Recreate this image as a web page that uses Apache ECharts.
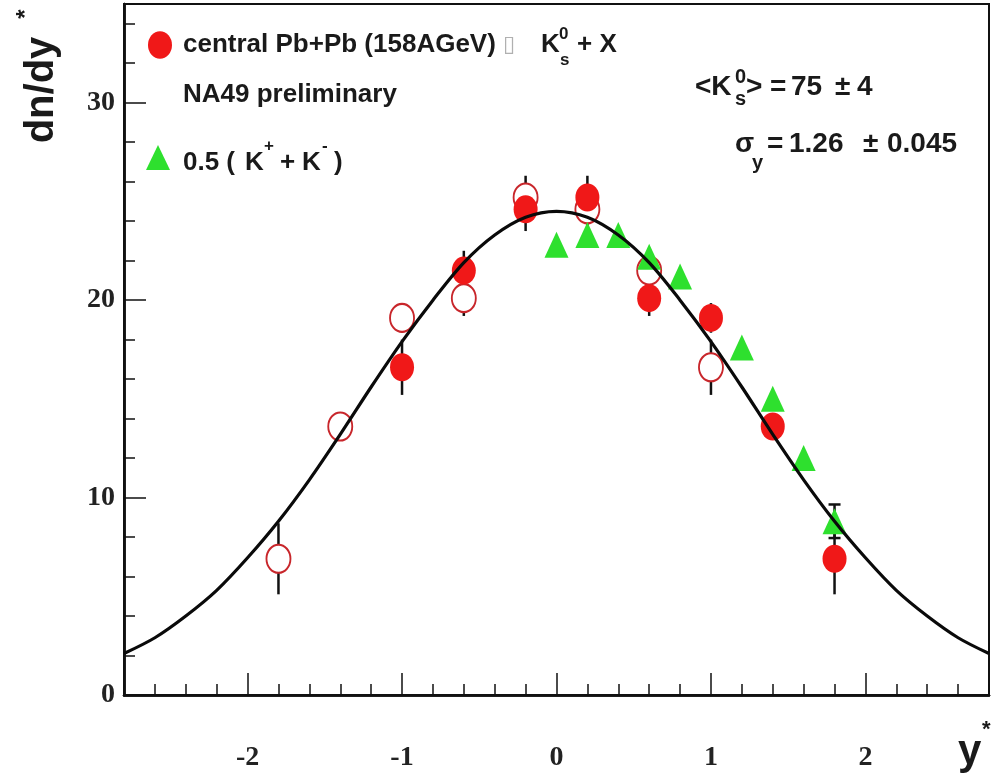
<!DOCTYPE html>
<html>
<head>
<meta charset="utf-8">
<script src="https://cdn.jsdelivr.net/npm/echarts@6/dist/echarts.min.js"></script>
<style>html,body{margin:0;padding:0;background:#fff}#c{width:994px;height:779px}</style>
</head>
<body>
<div id="c"></div>
<script>
// ---- data ----
const filledX = [-1.0, -0.6, -0.2, 0.2, 0.6, 1.0, 1.4, 1.8];
const filledY = [16.6, 21.5, 24.6, 25.2, 20.1, 19.1, 13.6, 6.9];
const filledErr = [1.4, 1.0, 1.1, 1.1, 0.9, 0.75, 0.6, 1.8];

const openX = [-1.8, -1.4, -1.0, -0.6, -0.2, 0.2, 0.6, 1.0];
const openY = [6.9, 13.6, 19.1, 20.1, 25.2, 24.6, 21.5, 16.6];
const openErr = [1.8, 0.6, 0.75, 0.9, 1.1, 1.1, 1.0, 1.4];

const triX = [0.0, 0.2, 0.4, 0.6, 0.8, 1.2, 1.4, 1.6, 1.8];
const triY = [22.8, 23.3, 23.3, 22.2, 21.2, 17.6, 15.0, 12.0, 8.8];
const triErr = [0.3, 0.3, 0.3, 0.3, 0.3, 0.4, 0.4, 0.5, 0.85];

const curveX = [-2.8, -2.6, -2.4, -2.2, -2.0, -1.8, -1.6, -1.4, -1.2, -1.0, -0.8, -0.6, -0.4, -0.2, 0.0,
                0.2, 0.4, 0.6, 0.8, 1.0, 1.2, 1.4, 1.6, 1.8, 2.0, 2.2, 2.4, 2.6, 2.8];
const curveY = [2.1, 2.9, 4.0, 5.3, 6.95, 8.8, 10.9, 13.2, 15.6, 17.9, 20.0, 21.9, 23.3, 24.2, 24.5,
                24.2, 23.3, 21.9, 20.0, 17.9, 15.6, 13.2, 10.9, 8.8, 6.95, 5.3, 4.0, 2.9, 2.1];

const xMin = -2.8, xMax = 2.8, yMin = 0, yMax = 35;
const xMajorLabels = [-2, -1, 0, 1, 2];
const yMajorLabels = [0, 10, 20, 30];

// ---- chart ----
const chart = echarts.init(document.getElementById('c'), null, {renderer: 'canvas'});
const tickFont = {fontFamily: 'Liberation Serif', fontWeight: 'bold', fontSize: 28, color: '#222'};
const sansB = "bold 26px 'Liberation Sans'";
const sansSm = "bold 17px 'Liberation Sans'";
const fitB = "bold 28px 'Liberation Sans'";
const fitSm = "bold 20px 'Liberation Sans'";

function errSeries(xs, ys, es, cap, z) {
  return {
    type: 'custom', xAxisIndex: 0, yAxisIndex: 0, z: z, silent: true,
    data: xs.map((x, i) => [x, ys[i] - es[i], ys[i] + es[i], es[i]]),
    renderItem: function (params, api) {
      const lo = api.coord([api.value(0), api.value(1)]);
      const hi = api.coord([api.value(0), api.value(2)]);
      const st = {stroke: '#111', lineWidth: 2.5};
      const ch = [{type: 'line', shape: {x1: lo[0], y1: lo[1], x2: hi[0], y2: hi[1]}, style: st}];
      if (cap && api.value(3) >= 0.8) {
        ch.push({type: 'line', shape: {x1: lo[0] - 6, y1: lo[1], x2: lo[0] + 6, y2: lo[1]}, style: st});
        ch.push({type: 'line', shape: {x1: hi[0] - 6, y1: hi[1], x2: hi[0] + 6, y2: hi[1]}, style: st});
      }
      return {type: 'group', children: ch};
    }
  };
}

function txt(text, x, y, font, extra) {
  const el = {type: 'text', x: x, y: y, z: 100,
    style: {text: text, font: font, fill: '#1a1a1a', textAlign: 'left', textVerticalAlign: 'middle'}};
  if (extra) {
    if (extra.rotation !== undefined) el.rotation = extra.rotation;
    Object.assign(el.style, extra.style || {});
  }
  return el;
}

const option = {
  animation: false,
  backgroundColor: '#fff',
  grid: {left: 124, right: 5, top: 4, bottom: 84, show: true, borderColor: '#111', borderWidth: 2, containLabel: false},
  xAxis: [
    { type: 'value', min: xMin, max: xMax, interval: 0.2, position: 'bottom',
      axisLine: {show: true, onZero: false, lineStyle: {color: '#111', width: 2.5}},
      axisTick: {show: true, inside: true, length: 11, lineStyle: {color: '#111', width: 1.5}},
      axisLabel: {show: false}, splitLine: {show: false} },
    { type: 'value', min: xMin, max: xMax, splitNumber: 6, position: 'bottom',
      axisLine: {show: true, onZero: false, lineStyle: {color: '#111', width: 2.5}},
      axisTick: {show: true, inside: true, length: 22, lineStyle: {color: '#111', width: 1.5}},
      axisLabel: Object.assign({show: true, margin: 49, showMinLabel: false, showMaxLabel: false,
        formatter: v => (xMajorLabels.indexOf(Math.round(v * 10) / 10) >= 0 ? String(Math.round(v)) : '')}, tickFont),
      splitLine: {show: false} }
  ],
  yAxis: [
    { type: 'value', min: yMin, max: yMax, interval: 10, position: 'left',
      axisLine: {show: true, onZero: false, lineStyle: {color: '#111', width: 2.5}},
      axisTick: {show: true, inside: true, length: 22, lineStyle: {color: '#111', width: 1.5}},
      axisLabel: Object.assign({show: true, margin: 9, showMaxLabel: false,
        formatter: v => (yMajorLabels.indexOf(v) >= 0 ? String(v) : '')}, tickFont),
      splitLine: {show: false} },
    { type: 'value', min: yMin, max: yMax, interval: 2, position: 'left', offset: 0,
      axisLine: {show: true, onZero: false, lineStyle: {color: '#111', width: 2.5}},
      axisTick: {show: true, inside: true, length: 11, lineStyle: {color: '#111', width: 1.5}},
      axisLabel: {show: false}, splitLine: {show: false} }
  ],
  series: [
    errSeries(openX, openY, openErr, false, 2),
    errSeries(filledX, filledY, filledErr, false, 2),
    errSeries(triX, triY, triErr, true, 2),
    { type: 'scatter', name: 'open', z: 3, symbol: 'circle', symbolSize: [24, 28],
      data: openX.map((x, i) => [x, openY[i]]),
      itemStyle: {color: '#ffffff', borderColor: '#c8262b', borderWidth: 2, opacity: 1} },
    { type: 'scatter', name: 'filled', z: 4, symbol: 'circle', symbolSize: [24, 28],
      data: filledX.map((x, i) => [x, filledY[i]]),
      itemStyle: {color: '#f01818', opacity: 1} },
    { type: 'scatter', name: 'kpm', z: 5, symbol: 'triangle', symbolSize: [24, 26],
      data: triX.map((x, i) => [x, triY[i]]),
      itemStyle: {color: '#2ee02e', opacity: 1} },
    { type: 'line', name: 'fit', z: 10, smooth: 0.3, symbol: 'none',
      data: curveX.map((x, i) => [x, curveY[i]]),
      lineStyle: {color: '#0a0a0a', width: 3.2} }
  ],
  graphic: [
    // axis titles
    txt('dn/dy', 42, 90, "bold 40px 'Liberation Sans'", {rotation: Math.PI / 2, style: {textAlign: 'center'}}),
    txt('*', 26, 14, "bold 24px 'Liberation Sans'", {rotation: Math.PI / 2, style: {textAlign: 'center'}}),
    txt('y', 958, 752, "bold 42px 'Liberation Sans'"),
    txt('*', 982, 730, "bold 22px 'Liberation Sans'"),
    // legend markers
    {type: 'circle', z: 100, shape: {cx: 160, cy: 45, r: 12}, scaleY: 1.15, originX: 160, originY: 45, style: {fill: '#f01818'}},
    {type: 'polygon', z: 100, shape: {points: [[146, 170], [170, 170], [158, 145]]}, style: {fill: '#2ee02e'}},
    // legend texts
    txt('central Pb+Pb (158AGeV)', 183, 45, sansB),
    txt('\u25AF', 503, 45, "22px 'DejaVu Sans'", {style: {fill: '#b0b0b0'}}),
    txt('K', 541, 45, sansB),
    txt('0', 559, 34, sansSm),
    txt('s', 560, 60, sansSm),
    txt('+ X', 577, 45, sansB),
    txt('NA49 preliminary', 183, 95, sansB),
    txt('0.5 (', 183, 163, sansB),
    txt('K', 245, 163, sansB),
    txt('+', 264, 146, sansSm),
    txt('+', 280, 163, sansB),
    txt('K', 302, 163, sansB),
    txt('-', 322, 146, sansSm),
    txt(')', 334, 163, sansB),
    // fit results
    txt('<K', 695, 87, fitB),
    txt('0', 735, 77, fitSm),
    txt('s', 735, 99, fitSm),
    txt('>', 746, 87, fitB),
    txt('=', 770, 87, fitB),
    txt('75', 791, 87, fitB),
    txt('\u00B1', 835, 87, fitB),
    txt('4', 857, 87, fitB),
    txt('\u03C3', 735, 144, fitB),
    txt('y', 752, 163, fitSm),
    txt('=', 767, 144, fitB),
    txt('1.26', 789, 144, fitB),
    txt('\u00B1', 863, 144, fitB),
    txt('0.045', 887, 144, fitB)
  ]
};
chart.setOption(option);
</script>
</body>
</html>
